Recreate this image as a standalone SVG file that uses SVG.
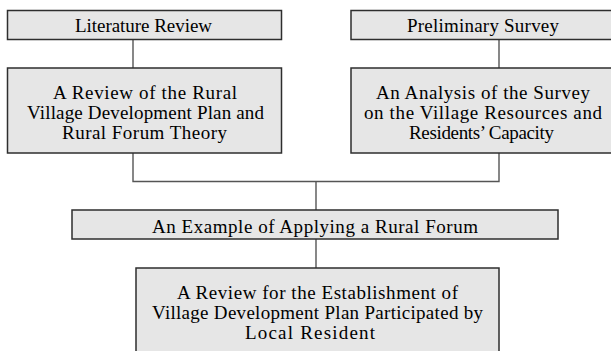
<svg xmlns="http://www.w3.org/2000/svg" width="611" height="351" viewBox="0 0 611 351">
<style>
.box{fill:#e6e6e6;stroke:#2e2e2e;stroke-width:1.5}
.t{font-family:"Liberation Serif","Times New Roman",serif;font-size:19px;fill:#000;text-anchor:middle}
.c{fill:none;stroke:#555;stroke-width:1.4}
</style>
<rect width="611" height="351" fill="#fff"/>
<g id="connectors">
<line class="c" x1="133" y1="40" x2="133" y2="68"/>
<line class="c" x1="499" y1="40" x2="499" y2="68"/>
<polyline class="c" points="133,153 133,181.5 499,181.5 499,153"/>
<line class="c" x1="316" y1="181.5" x2="316" y2="210"/>
<line class="c" x1="316" y1="239" x2="316" y2="268"/>
</g>
<g id="literature-review">
<rect class="box" x="7.5" y="10.5" width="274" height="29"/>
<text class="t" x="143.5" y="32" textLength="137" lengthAdjust="spacing">Literature Review</text>
</g>
<g id="review-rural-plan">
<rect class="box" x="7.5" y="68" width="274" height="85"/>
<text class="t" x="145" y="99" textLength="184" lengthAdjust="spacing">A Review of the Rural</text>
<text class="t" x="145.5" y="119" textLength="237" lengthAdjust="spacing">Village Development Plan and</text>
<text class="t" x="144.5" y="139" textLength="165" lengthAdjust="spacing">Rural Forum Theory</text>
</g>
<g id="preliminary-survey">
<rect class="box" x="351" y="10.5" width="265" height="29"/>
<text class="t" x="483" y="32" textLength="152" lengthAdjust="spacing">Preliminary Survey</text>
</g>
<g id="analysis-survey">
<rect class="box" x="351" y="68" width="265" height="85"/>
<text class="t" x="483" y="99" textLength="214" lengthAdjust="spacing">An Analysis of the Survey</text>
<text class="t" x="483" y="119" textLength="238" lengthAdjust="spacing">on the Village Resources and</text>
<text class="t" x="481.5" y="139" textLength="145" lengthAdjust="spacing">Residents’ Capacity</text>
</g>
<g id="example-rural-forum">
<rect class="box" x="72" y="210" width="486" height="29"/>
<text class="t" x="315" y="233" textLength="326" lengthAdjust="spacing">An Example of Applying a Rural Forum</text>
</g>
<g id="review-establishment">
<rect class="box" x="136" y="268" width="363" height="100"/>
<text class="t" x="317.5" y="299" textLength="281" lengthAdjust="spacing">A Review for the Establishment of</text>
<text class="t" x="317.5" y="319" textLength="331" lengthAdjust="spacing">Village Development Plan Participated by</text>
<text class="t" x="310" y="339" textLength="130" lengthAdjust="spacing">Local Resident</text>
</g>
</svg>
